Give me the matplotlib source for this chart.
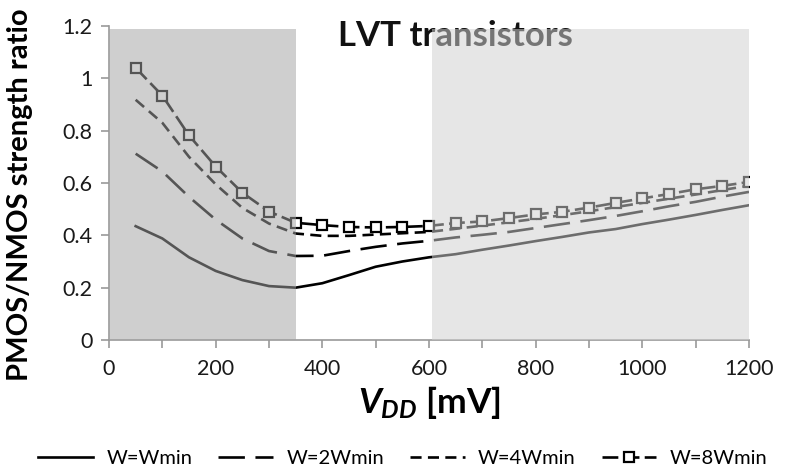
import matplotlib
matplotlib.use("Agg")
import matplotlib.pyplot as plt
from matplotlib.patches import Rectangle

plt.rcParams['font.family'] = ['Lato', 'DejaVu Sans']
plt.rcParams['mathtext.fontset'] = 'custom'
plt.rcParams['mathtext.it'] = 'Lato:bold:italic'
plt.rcParams['mathtext.rm'] = 'Lato:bold'

# VDD in mV
vdd = [50, 100, 150, 200, 250, 300, 350, 400, 450, 500, 550, 600,
       650, 700, 750, 800, 850, 900, 950, 1000, 1050, 1100, 1150, 1200]

# PMOS/NMOS strength ratio for each width
w_min = [0.435, 0.388, 0.316, 0.264, 0.229, 0.206, 0.200, 0.217, 0.248, 0.280, 0.300, 0.316,
         0.328, 0.345, 0.361, 0.378, 0.394, 0.411, 0.424, 0.443, 0.460, 0.478, 0.497, 0.515]
w_2 = [0.712, 0.644, 0.547, 0.460, 0.388, 0.340, 0.321, 0.322, 0.340, 0.356, 0.369, 0.379,
       0.392, 0.402, 0.413, 0.428, 0.443, 0.458, 0.474, 0.492, 0.511, 0.528, 0.548, 0.566]
w_4 = [0.918, 0.830, 0.700, 0.595, 0.505, 0.445, 0.407, 0.398, 0.398, 0.403, 0.408, 0.413,
       0.425, 0.437, 0.450, 0.463, 0.477, 0.492, 0.508, 0.524, 0.540, 0.556, 0.573, 0.590]
w_8 = [1.040, 0.934, 0.782, 0.663, 0.563, 0.491, 0.448, 0.439, 0.432, 0.430, 0.432, 0.436,
       0.447, 0.453, 0.466, 0.480, 0.490, 0.506, 0.524, 0.541, 0.558, 0.576, 0.589, 0.604]
labels = ['W=Wmin', 'W=2Wmin', 'W=4Wmin', 'W=8Wmin']

# shaded regions (mV)
dark_span = (0, 350)
light_span = (605, 1200)
span_top = 1.19

xticks = [0, 200, 400, 600, 800, 1000, 1200]
yticks = [0, 0.2, 0.4, 0.6, 0.8, 1.0, 1.2]
ytick_labels = ['0', '0.2', '0.4', '0.6', '0.8', '1', '1.2']

fig = plt.figure(figsize=(7.86, 4.71), dpi=100)
ax = fig.add_axes([109 / 786, 131 / 471, 640 / 786, 314 / 471])

lw = 1.9
ax.plot(vdd, w_min, color='black', lw=lw, zorder=2, label=labels[0])
ax.plot(vdd, w_2, color='black', lw=lw, dashes=(10, 4), zorder=2, label=labels[1])
ax.plot(vdd, w_4, color='black', lw=lw, dashes=(4.2, 2.4), zorder=2, label=labels[2])
ax.plot(vdd, w_8, color='black', lw=lw, dashes=(6, 2), marker='s', ms=7.5,
        mfc='white', mec='black', mew=1.6, zorder=2, label=labels[3])

ax.text(650, 1.163, 'LVT transistors', fontsize=25, fontweight='bold',
        ha='center', va='center', color='#111111', zorder=1)

# semi-transparent overlays drawn on top of the curves
ax.add_patch(Rectangle((dark_span[0], 0), dark_span[1] - dark_span[0], span_top,
                       facecolor=(0.645, 0.645, 0.645), alpha=0.52, lw=0, zorder=5))
ax.add_patch(Rectangle((light_span[0], 0), light_span[1] - light_span[0], span_top,
                       facecolor=(0.814, 0.814, 0.814), alpha=0.53, lw=0, zorder=5))

ax.set_xlim(0, 1200)
ax.set_ylim(0, 1.2)
ax.set_xticks(xticks)
ax.set_xticks(range(0, 1201, 100), minor=True)
ax.set_yticks(yticks)
ax.set_yticklabels(ytick_labels)
ax.tick_params(axis='both', which='both', direction='out', color='#999999',
               labelsize=15.5, labelcolor='#1a1a1a', width=1.2)
ax.tick_params(axis='x', which='both', length=6, pad=8)
ax.tick_params(axis='y', length=6, pad=6)
for s in ['top', 'right']:
    ax.spines[s].set_visible(False)
for s in ['left', 'bottom']:
    ax.spines[s].set_color('#999999')
    ax.spines[s].set_linewidth(1.2)

ax.set_xlabel(r'$V_{DD}$ [mV]', fontsize=25.5, fontweight='bold', labelpad=3)
fig.text(20 / 786, 1 - 195 / 471, 'PMOS/NMOS strength ratio', rotation=90,
         fontsize=21, fontweight='bold', ha='center', va='center')

fig.legend(loc='center', bbox_to_anchor=(403 / 786, 1 - 458 / 471), ncol=4, frameon=False,
           fontsize=14.5, handlelength=2.7, handletextpad=0.67, columnspacing=1.3)

fig.savefig('out.png', dpi=100)
